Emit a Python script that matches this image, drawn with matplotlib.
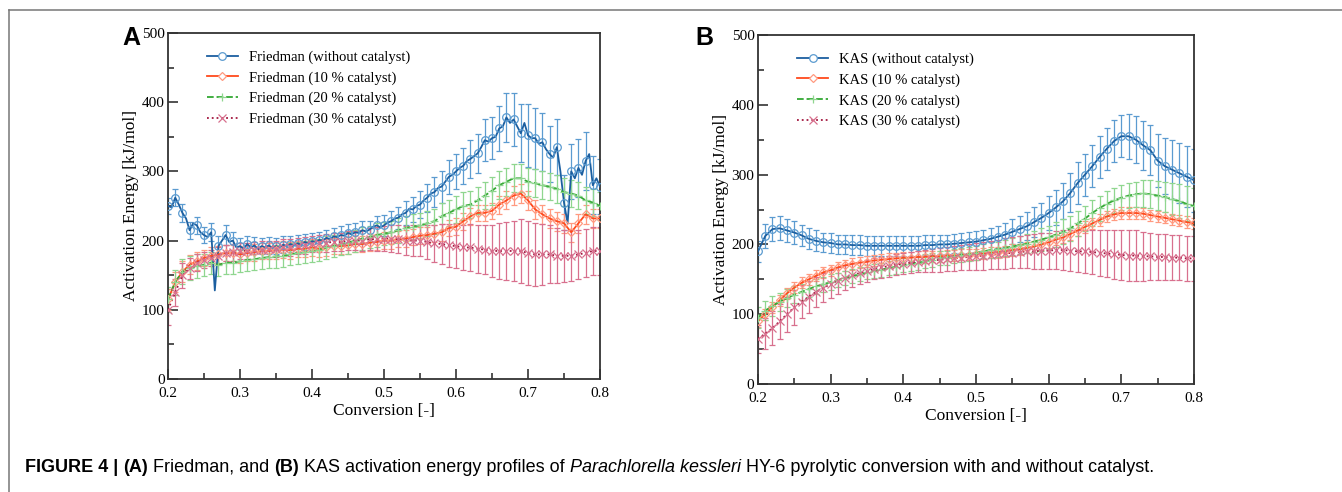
import numpy as np
import matplotlib
matplotlib.use("Agg")
import matplotlib.pyplot as plt
from matplotlib.lines import Line2D
from matplotlib.ticker import MultipleLocator, FormatStrFormatter

plt.rcParams.update({'font.family': 'Liberation Serif', 'font.size': 10})

# --- DATA ---
conv = np.round(np.arange(0.20, 0.8001, 0.01), 3)          # 61 points, markers / error bars
conv_fine = np.round(np.arange(0.20, 0.8001, 0.005), 4)    # 121 points, noisy Friedman line

# Panel A (Friedman)
fr_none_fine = [250, 248, 262, 252, 240, 232, 215, 225, 222, 212, 208, 205, 212, 128, 192,
                200, 208, 198, 200, 190, 192, 188, 195, 190, 193, 188, 192, 190, 193, 189,
                192, 190, 194, 192, 195, 193, 196, 194, 198, 196, 199, 198, 201, 200, 204,
                202, 206, 205, 208, 207, 211, 209, 212, 211, 215, 213, 216, 220, 222, 219,
                222, 226, 228, 232, 233, 238, 240, 246, 245, 250, 252, 258, 262, 268, 270,
                276, 278, 285, 292, 295, 300, 305, 308, 315, 318, 322, 326, 335, 345, 343,
                348, 350, 362, 365, 378, 370, 375, 365, 355, 370, 352, 348, 348, 340, 342,
                332, 325, 320, 335, 300, 255, 225, 300, 290, 305, 295, 315, 325, 280, 290, 278]
fr_none_err = [12, 12, 13, 12, 12, 12, 13, 14, 14, 13, 12, 12, 12, 12, 12, 12, 12, 12, 12, 12,
               12, 12, 12, 12, 13, 13, 13, 13, 13, 14, 15, 15, 16, 17, 18, 19, 20, 22, 23, 24,
               25, 26, 27, 28, 30, 30, 32, 35, 38, 42, 45, 44, 42, 40, 40, 40, 40, 42, 42, 42, 40]
fr_10 = [115, 140, 155, 165, 170, 175, 178, 180, 182, 182, 180, 182, 183, 185, 185, 186, 187,
         186, 188, 188, 190, 188, 190, 192, 192, 193, 195, 195, 197, 198, 200, 200, 202, 203,
         205, 207, 208, 210, 212, 218, 220, 228, 235, 240, 240, 243, 252, 258, 265, 268, 258,
         245, 238, 232, 228, 225, 212, 225, 238, 232, 232]
fr_10_err = [15, 15, 15, 14, 13, 12, 12, 12, 12, 12, 12, 12, 12, 12, 12, 12, 12, 12, 12, 12,
             12, 12, 12, 12, 12, 12, 12, 12, 12, 12, 12, 12, 12, 12, 12, 12, 12, 12, 12, 12,
             12, 12, 12, 12, 12, 12, 13, 13, 14, 14, 14, 14, 14, 14, 14, 14, 14, 14, 14, 14, 14]
fr_20 = [115, 140, 155, 160, 163, 165, 168, 165, 168, 168, 170, 172, 173, 175, 176, 177, 178,
         180, 182, 183, 185, 187, 190, 192, 195, 197, 200, 203, 205, 208, 210, 212, 215, 218,
         220, 222, 225, 228, 235, 240, 245, 250, 252, 258, 265, 272, 280, 285, 290, 290, 285,
         283, 280, 278, 275, 270, 268, 265, 258, 255, 250]
fr_20_err = [18, 18, 18, 17, 17, 16, 16, 16, 16, 16, 16, 16, 16, 16, 16, 16, 16, 16, 16, 16,
             16, 16, 16, 16, 16, 16, 16, 16, 16, 17, 17, 17, 18, 18, 18, 18, 18, 18, 19, 19,
             20, 20, 20, 20, 20, 20, 20, 20, 20, 20, 20, 20, 20, 20, 20, 20, 20, 20, 20, 20, 20]
fr_30 = [100, 125, 150, 160, 168, 172, 175, 178, 182, 183, 185, 185, 186, 187, 188, 188, 190,
         190, 192, 193, 195, 196, 197, 198, 198, 200, 200, 200, 202, 202, 203, 203, 202, 200,
         200, 200, 198, 196, 195, 193, 192, 190, 190, 188, 187, 185, 185, 185, 185, 185, 182,
         180, 180, 180, 178, 178, 178, 180, 182, 185, 185]
fr_30_err = [22, 20, 18, 15, 12, 12, 12, 12, 12, 12, 12, 12, 12, 12, 12, 12, 12, 12, 12, 12,
             12, 12, 13, 13, 13, 14, 14, 15, 16, 17, 18, 19, 20, 21, 22, 23, 25, 27, 29, 31,
             32, 33, 34, 35, 36, 38, 40, 42, 44, 46, 46, 45, 44, 42, 40, 38, 37, 36, 35, 35, 35]

# Panel B (KAS)
kas_none = [190, 212, 222, 223, 220, 217, 213, 208, 205, 203, 202, 200, 200, 199, 199, 198,
            198, 198, 198, 198, 198, 198, 198, 199, 199, 200, 200, 201, 202, 203, 204, 206,
            208, 211, 214, 218, 222, 226, 232, 238, 245, 253, 262, 274, 288, 300, 312, 325,
            337, 348, 355, 355, 350, 342, 335, 320, 312, 307, 302, 297, 292]
kas_none_err = [15, 17, 17, 17, 16, 16, 15, 15, 15, 14, 14, 14, 14, 14, 14, 14, 14, 14, 14,
                14, 14, 14, 14, 14, 14, 14, 14, 14, 15, 15, 15, 15, 16, 16, 17, 18, 19, 20,
                21, 22, 24, 25, 26, 28, 30, 30, 30, 30, 30, 30, 30, 32, 34, 35, 36, 38, 40,
                42, 43, 44, 45]
kas_10 = [90, 100, 110, 120, 130, 138, 145, 150, 155, 160, 163, 167, 170, 172, 174, 175, 177,
          178, 179, 180, 181, 181, 182, 182, 183, 183, 184, 184, 185, 185, 186, 187, 188, 189,
          190, 192, 193, 195, 197, 200, 203, 207, 210, 215, 220, 225, 230, 235, 240, 243, 245,
          245, 245, 244, 242, 240, 238, 236, 234, 232, 230]
kas_10_err = [8] * 61
kas_20 = [95, 105, 112, 118, 123, 128, 132, 136, 140, 143, 146, 149, 152, 155, 157, 160, 162,
          164, 166, 168, 170, 172, 174, 176, 178, 180, 181, 183, 185, 186, 188, 190, 192, 193,
          195, 197, 199, 201, 204, 207, 210, 214, 218, 223, 230, 237, 245, 252, 258, 263, 267,
          270, 272, 273, 272, 270, 268, 265, 262, 258, 255]
kas_20_err = [15, 14, 14, 13, 13, 12, 12, 12, 11, 11, 11, 10, 10, 10, 10, 10, 10, 10, 10, 10,
              10, 10, 10, 10, 10, 10, 10, 10, 10, 10, 10, 10, 11, 11, 12, 12, 13, 14, 15, 16,
              17, 18, 18, 18, 18, 18, 18, 18, 18, 18, 18, 18, 18, 19, 20, 21, 22, 23, 24, 25, 26]
kas_30 = [65, 72, 80, 90, 100, 110, 118, 125, 132, 138, 143, 148, 152, 156, 159, 162, 165, 167,
          169, 171, 172, 174, 175, 176, 177, 178, 179, 180, 181, 182, 183, 184, 185, 186, 187,
          188, 189, 190, 190, 191, 191, 192, 192, 191, 190, 190, 189, 188, 187, 186, 185, 184,
          184, 183, 183, 182, 182, 181, 181, 180, 180]
kas_30_err = [20, 22, 24, 25, 25, 25, 24, 23, 22, 21, 20, 19, 18, 17, 16, 16, 15, 15, 15, 15,
              15, 15, 15, 16, 16, 17, 17, 18, 18, 19, 19, 20, 20, 21, 22, 22, 23, 24, 25, 26,
              26, 27, 28, 29, 30, 31, 32, 33, 34, 35, 36, 36, 36, 35, 34, 33, 33, 32, 32, 32, 32]

labels_fr = ['Friedman (without catalyst)', 'Friedman (10 % catalyst)',
             'Friedman (20 % catalyst)', 'Friedman (30 % catalyst)']
labels_kas = ['KAS (without catalyst)', 'KAS (10 % catalyst)',
              'KAS (20 % catalyst)', 'KAS (30 % catalyst)']

# --- STYLE ---
styles = [
    dict(color='#1c5fa0', ecolor='#5b9bd0', marker='o', ls='-'),
    dict(color='#ff4a1c', ecolor='#ff9a80', marker='D', ls='-'),
    dict(color='#33a833', ecolor='#8fd68f', marker='+', ls='--'),
    dict(color='#a3173f', ecolor='#d8708e', marker='x', ls=':'),
]

fig = plt.figure(figsize=(13.42, 4.92), dpi=100)
axA = fig.add_axes([0.1252, 0.2297, 0.3219, 0.7033])
axB = fig.add_axes([0.5648, 0.2195, 0.3249, 0.7093])


def draw_series(ax, x, y, err, st, line_x=None, line_y=None):
    ms = 5.5 if st['marker'] != 'D' else 4
    ax.errorbar(x, y, yerr=err, fmt='none', ecolor=st['ecolor'], elinewidth=0.9,
                capsize=2.5, capthick=0.9, zorder=2)
    if line_x is None:
        line_x, line_y = x, y
    ax.plot(line_x, line_y, color=st['color'], ls=st['ls'], lw=1.3, zorder=3)
    ax.plot(x, y, ls='none', marker=st['marker'], ms=ms, mfc='none', mec=st['ecolor'],
            mew=0.9, zorder=4)


draw_series(axA, conv, fr_none_fine[::2], fr_none_err, styles[0], conv_fine, fr_none_fine)
draw_series(axA, conv, fr_10, fr_10_err, styles[1])
draw_series(axA, conv, fr_20, fr_20_err, styles[2])
draw_series(axA, conv, fr_30, fr_30_err, styles[3])

draw_series(axB, conv, kas_none, kas_none_err, styles[0])
draw_series(axB, conv, kas_10, kas_10_err, styles[1])
draw_series(axB, conv, kas_20, kas_20_err, styles[2])
draw_series(axB, conv, kas_30, kas_30_err, styles[3])

for ax, labels, leg_y in [(axA, labels_fr, 0.975), (axB, labels_kas, 0.975)]:
    ax.set_xlim(0.2, 0.8)
    ax.set_ylim(0, 500)
    ax.xaxis.set_major_locator(MultipleLocator(0.1))
    ax.xaxis.set_minor_locator(MultipleLocator(0.05))
    ax.yaxis.set_major_locator(MultipleLocator(100))
    ax.yaxis.set_minor_locator(MultipleLocator(50))
    ax.xaxis.set_major_formatter(FormatStrFormatter('%.1f'))
    ax.tick_params(which='both', direction='in', top=False, right=False, labelsize=11,
                   color='#333333')
    ax.tick_params(which='major', length=7, width=1.2)
    ax.tick_params(which='minor', length=4, width=1.2)
    ax.tick_params(axis='x', pad=6)
    ax.tick_params(axis='y', pad=2.5)
    for sp in ax.spines.values():
        sp.set_linewidth(1.3)
        sp.set_color('#333333')
    ax.set_xlabel('Conversion [-]', fontsize=12.5, labelpad=2)
    ax.set_ylabel('Activation Energy [kJ/mol]', fontsize=12.5, labelpad=2)

    handles = []
    for st, lab in zip(styles, labels):
        ms = 5.5 if st['marker'] != 'D' else 4
        handles.append(Line2D([], [], color=st['color'], ls=st['ls'], lw=1.3,
                              marker=st['marker'], ms=ms, mfc='white', mec=st['ecolor'],
                              mew=0.9, label=lab))
    ax.legend(handles=handles, loc='upper left', bbox_to_anchor=(0.07, leg_y), frameon=False,
              fontsize=10.5, handlelength=2.1, handletextpad=0.75, labelspacing=0.5,
              borderaxespad=0.2)

# panel letters
fig.text(122 / 1342, 1 - 45 / 492, 'A', family='Liberation Sans', weight='bold',
         fontsize=18, va='baseline')
fig.text(695 / 1342, 1 - 45 / 492, 'B', family='Liberation Sans', weight='bold',
         fontsize=18, va='baseline')

# frame lines (top and left)
fig.add_artist(Line2D([9 / 1342, 1.0], [1 - 10 / 492, 1 - 10 / 492], color='#777777', lw=1.1))
fig.add_artist(Line2D([9 / 1342, 9 / 1342], [0.0, 1 - 10 / 492], color='#777777', lw=1.1))

# caption, built from pieces
pieces = [('FIGURE 4 | ', 'bold', 'normal'), ('(A)', 'bold', 'normal'),
          (' Friedman, and ', 'normal', 'normal'), ('(B)', 'bold', 'normal'),
          (' KAS activation energy profiles of ', 'normal', 'normal'),
          ('Parachlorella kessleri', 'normal', 'italic'),
          (' HY-6 pyrolytic conversion with and without catalyst.', 'normal', 'normal')]
fig.canvas.draw()
renderer = fig.canvas.get_renderer()
xpos = 25
for txt, wt, sty in pieces:
    t = fig.text(xpos / 1342, 1 - 472 / 492, txt, family='Liberation Sans', weight=wt,
                 style=sty, fontsize=12.95, va='baseline', ha='left')
    bb = t.get_window_extent(renderer=renderer)
    xpos += bb.width

fig.savefig('out.png', dpi=100)
